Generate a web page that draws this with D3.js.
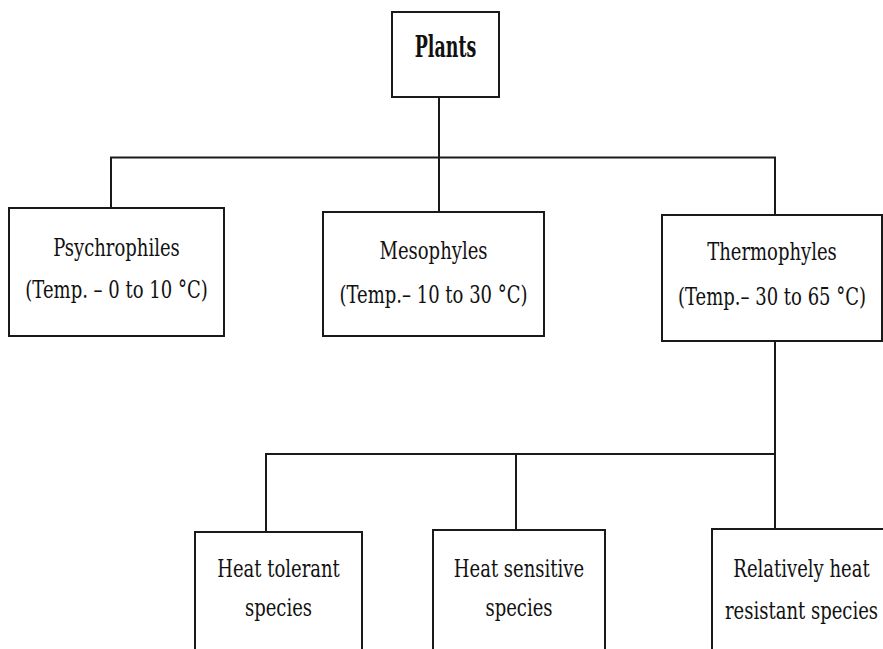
<!DOCTYPE html>
<html>
<head>
<meta charset="utf-8">
<script src="https://cdn.jsdelivr.net/npm/d3@7"></script>
<style>
  html, body { margin: 0; padding: 0; background: #fff; }
  svg { display: block; }
  .box { fill: #fff; stroke: #1a1a1a; stroke-width: 2; }
  .link { fill: none; stroke: #1a1a1a; stroke-width: 2; }
  .label { fill: #111; font-family: "DejaVu Serif"; }
</style>
</head>
<body>
<div id="chart"></div>
<script>
// node data
const nodeIds = ['plants', 'psychro', 'meso', 'thermo', 'tolerant', 'sensitive', 'resistant'];
const nodeParents = [null, 'plants', 'plants', 'plants', 'thermo', 'thermo', 'thermo'];
const nodeLines = [
  ['Plants'],
  ['Psychrophiles', '(Temp. \u2013 0 to 10 \u00B0C)'],
  ['Mesophyles', '(Temp.\u2013 10 to 30 \u00B0C)'],
  ['Thermophyles', '(Temp.\u2013 30 to 65 \u00B0C)'],
  ['Heat tolerant', 'species'],
  ['Heat sensitive', 'species'],
  ['Relatively heat', 'resistant species']
];

const width = 883;
const height = 649;

// layout of each box (left, right, top, bottom) and where its stem meets it
const layout = {
  plants:    { x0: 392, x1: 499, y0: 12,  y1: 97,  stem: 439, base: [57] },
  psychro:   { x0: 9,   x1: 224, y0: 208, y1: 336, stem: 111, base: [256, 298] },
  meso:      { x0: 323, x1: 544, y0: 212, y1: 336, stem: 439, base: [259, 303] },
  thermo:    { x0: 662, x1: 882, y0: 215, y1: 341, stem: 775, base: [260, 305] },
  tolerant:  { x0: 195, x1: 362, y0: 532, y1: 700, stem: 266, base: [577, 616] },
  sensitive: { x0: 433, x1: 605, y0: 530, y1: 700, stem: 516, base: [577, 616] },
  resistant: { x0: 712, x1: 891, y0: 529, y1: 700, stem: 775, base: [577, 619] }
};
const busY = { plants: 157.5, thermo: 454 };

const nodes = nodeIds.map((id, i) => ({ id, parentId: nodeParents[i], lines: nodeLines[i] }));
const root = d3.stratify().id(d => d.id).parentId(d => d.parentId)(nodes);

const svg = d3.select('#chart')
  .append('svg')
  .attr('width', width)
  .attr('height', height);

// connectors: parent stem down to bus, bus across, drops to each child
root.descendants().filter(d => d.children).forEach(p => {
  const pl = layout[p.id];
  const y = busY[p.id];
  const xs = p.children.map(c => layout[c.id].stem);
  const g = svg.append('g').attr('class', 'links');
  g.append('line').attr('class', 'link')
    .attr('x1', pl.stem).attr('x2', pl.stem)
    .attr('y1', pl.y1).attr('y2', y);
  g.append('line').attr('class', 'link')
    .attr('x1', d3.min(xs) - 1).attr('x2', d3.max(xs) + 1)
    .attr('y1', y).attr('y2', y);
  g.selectAll('.drop')
    .data(p.children)
    .enter()
    .append('line')
    .attr('class', 'link drop')
    .attr('x1', c => layout[c.id].stem)
    .attr('x2', c => layout[c.id].stem)
    .attr('y1', y)
    .attr('y2', c => layout[c.id].y0);
});

const node = svg.selectAll('.node')
  .data(root.descendants())
  .enter()
  .append('g')
  .attr('class', 'node');

node.append('rect')
  .attr('class', 'box')
  .attr('x', d => layout[d.id].x0)
  .attr('y', d => layout[d.id].y0)
  .attr('width', d => layout[d.id].x1 - layout[d.id].x0)
  .attr('height', d => layout[d.id].y1 - layout[d.id].y0);

// labels are horizontally condensed like the source image
node.each(function(d) {
  const l = layout[d.id];
  const cx = (l.x0 + l.x1) / 2;
  const isRoot = d.depth === 0;
  d.data.lines.forEach((t, i) => {
    d3.select(this).append('text')
      .attr('class', 'label')
      .attr('text-anchor', 'middle')
      .attr('transform', `translate(${cx}, ${l.base[i]}) scale(${isRoot ? 0.58 : 0.75}, 1)`)
      .attr('font-size', isRoot ? 30 : 24)
      .attr('font-weight', isRoot ? 'bold' : 'normal')
      .text(t);
  });
});
</script>
</body>
</html>
